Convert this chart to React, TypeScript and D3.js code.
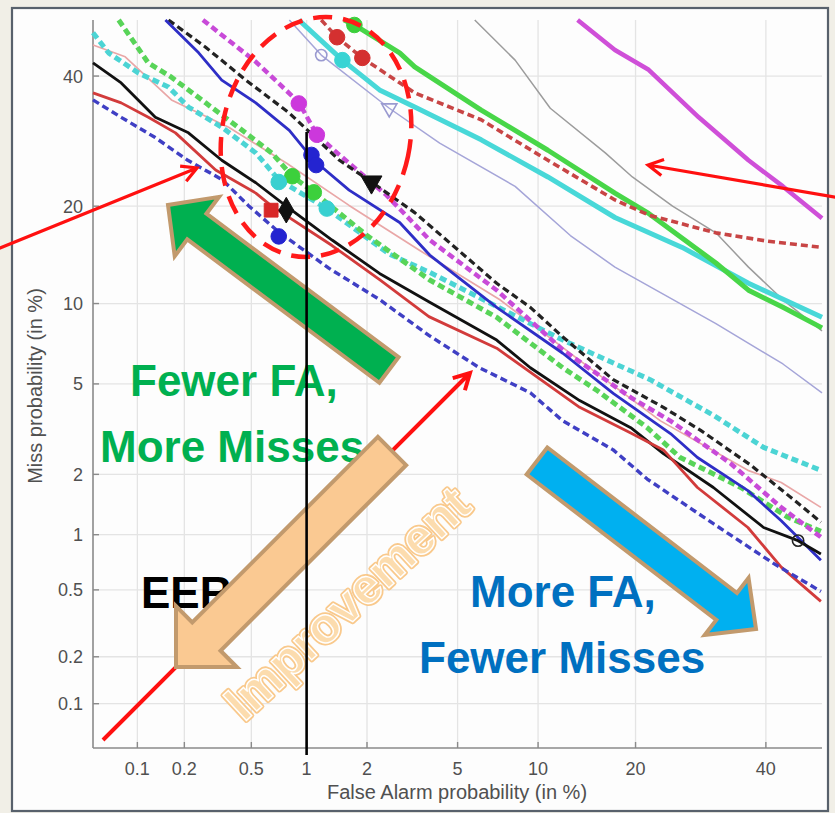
import React from "react";
import * as d3 from "d3";

const W = 835;
const H = 813;

// tick values (percent) shared by both axes
const tickValues = [0.1, 0.2, 0.5, 1, 2, 5, 10, 20, 40];
const tickLabels = ["0.1", "0.2", "0.5", "1", "2", "5", "10", "20", "40"];

// DET curves, [false alarm %, miss %]
const blueDashed = [[0.05, 35.9], [0.078, 33.0], [0.13, 29.8], [0.21, 26.3], [0.34, 23.5], [0.48, 20.1], [0.71, 16.9], [1.3, 13.1], [2.3, 10.3], [3.8, 7.7], [6.1, 5.8], [9.4, 4.6], [12.1, 3.5], [17.3, 2.6], [21.5, 1.9], [31.2, 1.14], [41.4, 0.7], [49.8, 0.49]];
const redSolid = [[0.05, 37.1], [0.078, 35.4], [0.118, 33.0], [0.176, 30.5], [0.31, 24.9], [0.53, 21.7], [0.65, 20.0], [1.35, 15.4], [2.3, 12.0], [3.8, 9.0], [7.1, 6.9], [10.7, 5.0], [13.7, 4.0], [19.4, 3.1], [23.7, 2.6], [28.7, 1.73], [36.9, 1.09], [42.7, 0.67], [49.8, 0.43]];
const blackSolid = [[0.05, 42.3], [0.078, 38.8], [0.131, 33.0], [0.212, 30.5], [0.337, 26.3], [0.53, 23.1], [0.78, 20.0], [1.35, 16.0], [2.29, 12.6], [3.83, 10.1], [7.1, 7.4], [9.4, 5.8], [13.7, 4.27], [19.4, 3.27], [23.7, 2.5], [31.2, 1.73], [39.6, 1.09], [45.7, 0.93], [49.8, 0.79]];
const salmonThin = [[0.05, 45.5], [0.083, 43.4], [0.166, 35.9], [0.37, 31.4], [0.78, 25.9], [1.64, 20.1], [3.46, 14.9], [7.3, 10.3], [13.7, 6.2], [23.3, 3.5], [36.9, 2.09], [42.7, 1.83], [49.8, 1.38]];
const cyanDashed = [[0.05, 47.7], [0.064, 44.1], [0.102, 40.5], [0.159, 38.1], [0.212, 34.7], [0.337, 31.4], [0.53, 27.4], [0.71, 23.5], [1.27, 19.7], [2.54, 14.5], [3.83, 12.7], [12.1, 7.4], [21.9, 5.2], [31.2, 3.7], [39.6, 2.67], [49.8, 2.09]];
const greenDashed = [[0.075, 50], [0.118, 42.3], [0.166, 39.8], [0.27, 35.4], [0.42, 31.4], [0.65, 27.4], [0.84, 24.0], [1.09, 21.8], [2.0, 16.5], [3.83, 12.0], [7.1, 8.95], [12.1, 5.8], [15.5, 4.7], [21.5, 3.27], [26.1, 2.4], [35.7, 1.73], [43.9, 1.23], [49.8, 1.04]];
const blueSolid = [[0.152, 50], [0.245, 44.1], [0.337, 39.3], [0.53, 35.4], [0.81, 30.9], [1.09, 26.3], [1.64, 22.1], [2.83, 18.0], [3.83, 14.4], [7.1, 9.7], [12.1, 6.6], [17.3, 4.57], [24.7, 3.08], [28.7, 2.4], [36.9, 1.67], [42.7, 1.18], [49.8, 0.73]];
const blackDashed = [[0.159, 50], [0.27, 45.1], [0.465, 39.3], [0.81, 33.7], [1.47, 26.3], [2.1, 23.2], [3.3, 19.2], [7.1, 11.7], [9.4, 9.7], [12.1, 7.6], [17.3, 5.2], [23.7, 4.0], [29.2, 3.18], [37.4, 2.21], [46.2, 1.41], [49.8, 1.16]];
const magentaDashed = [[0.26, 50], [0.53, 42.5], [0.91, 35.5], [1.13, 30.2], [1.47, 27.1], [2.47, 21.4], [3.83, 16.0], [7.1, 11.1], [12.1, 6.8], [19.4, 4.4], [24.7, 3.5], [34.0, 2.25], [42.7, 1.38], [49.8, 0.97]];
const greenSolid = [[1.55, 50], [1.74, 49.1], [2.83, 44.1], [3.3, 41.6], [6.2, 34.2], [10.8, 27.8], [17.5, 21.7], [21.7, 19.1], [31.6, 13.6], [37.0, 11.1], [43.0, 9.7], [50, 8.2]];
const redDashed = [[1.19, 50], [1.43, 46.9], [1.9, 43.2], [3.3, 37.1], [6.2, 32.6], [10.8, 26.3], [17.5, 20.8], [21.7, 18.9], [31.6, 16.8], [40, 15.9], [50, 15.2]];
const cyanSolid = [[0.91, 50], [1.52, 42.8], [2.29, 37.6], [3.3, 34.7], [6.2, 29.4], [10.8, 23.9], [17.5, 18.6], [26.4, 15.2], [37.0, 11.7], [50, 8.95]];
const purpleThin = [[0.81, 50], [1.19, 43.7], [2.54, 34.5], [4.22, 28.9], [8.3, 22.6], [12.8, 16.5], [17.5, 13.2], [31.6, 8.5], [43.0, 6.0], [50, 4.6]];
const greyThin = [[5.85, 50], [8.3, 42.8], [11.0, 34.5], [16.4, 27.4], [19.6, 23.9], [25.0, 20.0], [31.6, 16.8], [37.0, 13.2], [43.0, 10.3], [50, 8.0]];
const magentaSolid = [[13.5, 50], [17.5, 44.6], [21.7, 41.1], [28.9, 33.0], [37.0, 26.3], [43.0, 22.6], [50, 18.5]];

// operating point markers
const redDashedMarks = [[1.43, 46.9], [1.9, 43.2]];
const cyanSolidMarks = [[1.52, 42.8]];
const greenSolidMarks = [[1.74, 49.1]];
const purpleCircleMarks = [[1.19, 43.7]];
const purpleTriMarks = [[2.54, 34.5]];
const magentaDashedMarks = [[0.91, 35.3], [1.13, 30.2]];
const blueSolidMarks = [[1.06, 27.1], [1.12, 25.6]];
const blackDashedMarks = [[2.1, 23.2]];
const greenDashedMarks = [[0.84, 24.0], [1.09, 21.8]];
const cyanDashedMarks = [[0.71, 23.2], [1.27, 19.7]];
const redSolidMarks = [[0.645, 19.5]];
const blackSolidMarks = [[0.78, 19.5]];
const blueDashedMarks = [[0.71, 16.4]];
const blackOpenMarks = [[45.7, 0.93]];

// inverse normal cdf (Acklam)
function probit(p: number) {
  const a = [-39.69683028665376, 220.9460984245205, -275.9285104469687, 138.357751867269, -30.66479806614716, 2.506628277459239];
  const b = [-54.47609879822406, 161.5858368580409, -155.6989798598866, 66.80131188771972, -13.28068155288572];
  const c = [-0.007784894002430293, -0.3223964580411365, -2.400758277161838, -2.549732539343734, 4.374664141464968, 2.938163982698783];
  const d = [0.007784695709041462, 0.3224671290700398, 2.445134137142996, 3.754408661907416];
  const pl = 0.02425;
  if (p < pl) {
    const q = Math.sqrt(-2 * Math.log(p));
    return (((((c[0] * q + c[1]) * q + c[2]) * q + c[3]) * q + c[4]) * q + c[5]) / ((((d[0] * q + d[1]) * q + d[2]) * q + d[3]) * q + 1);
  }
  if (p <= 1 - pl) {
    const q = p - 0.5;
    const r = q * q;
    return ((((((a[0] * r + a[1]) * r + a[2]) * r + a[3]) * r + a[4]) * r + a[5]) * q) / (((((b[0] * r + b[1]) * r + b[2]) * r + b[3]) * r + b[4]) * r + 1);
  }
  const q = Math.sqrt(-2 * Math.log(1 - p));
  return -(((((c[0] * q + c[1]) * q + c[2]) * q + c[3]) * q + c[4]) * q + c[5]) / ((((d[0] * q + d[1]) * q + d[2]) * q + d[3]) * q + 1);
}

const left = 93, right = 822, top = 20, bottom = 748;
const xLin = d3.scaleLinear().domain([probit(0.0005), probit(0.5)]).range([left, right]);
const yLin = d3.scaleLinear().domain([probit(0.0005), probit(0.5)]).range([bottom, top]);
const x = (v: number) => xLin(probit(v / 100));
const y = (v: number) => yLin(probit(v / 100));

const series = [
  { data: purpleThin, color: "#a5a5d8", width: 1.5, dash: null },
  { data: greyThin, color: "#9c9c9c", width: 1.5, dash: null },
  { data: salmonThin, color: "#e9a7a7", width: 1.7, dash: null },
  { data: magentaSolid, color: "#cf4fd8", width: 4.5, dash: null },
  { data: cyanSolid, color: "#48d8d8", width: 5, dash: null },
  { data: greenSolid, color: "#48d648", width: 5, dash: null },
  { data: redDashed, color: "#c84545", width: 3.6, dash: "7 4" },
  { data: cyanDashed, color: "#4cd4d4", width: 5, dash: "7 4" },
  { data: greenDashed, color: "#58d458", width: 5, dash: "7 4" },
  { data: magentaDashed, color: "#c84ad8", width: 4.5, dash: "7 4" },
  { data: blackDashed, color: "#222222", width: 3.2, dash: "7 4" },
  { data: blueSolid, color: "#2e2ec6", width: 2.8, dash: null },
  { data: blackSolid, color: "#111111", width: 2.8, dash: null },
  { data: redSolid, color: "#d23b3b", width: 2.8, dash: null },
  { data: blueDashed, color: "#3f3fc4", width: 3.4, dash: "7 4" },
];

const markerSets = [
  { pts: purpleCircleMarks, color: "#9a9ad0", shape: d3.symbolCircle, open: true, rot: 0 },
  { pts: purpleTriMarks, color: "#9a9ad0", shape: d3.symbolTriangle, open: true, rot: 180 },
  { pts: greenSolidMarks, color: "#3ccf3c", shape: d3.symbolCircle, open: false, rot: 0 },
  { pts: redDashedMarks, color: "#d43030", shape: d3.symbolCircle, open: false, rot: 0 },
  { pts: cyanSolidMarks, color: "#38d4d4", shape: d3.symbolCircle, open: false, rot: 0 },
  { pts: magentaDashedMarks, color: "#cc38dc", shape: d3.symbolCircle, open: false, rot: 0 },
  { pts: blueSolidMarks, color: "#2424d0", shape: d3.symbolCircle, open: false, rot: 0 },
  { pts: blackDashedMarks, color: "#111111", shape: d3.symbolTriangle, open: false, rot: 180 },
  { pts: greenDashedMarks, color: "#3cd03c", shape: d3.symbolCircle, open: false, rot: 0 },
  { pts: cyanDashedMarks, color: "#38d0d0", shape: d3.symbolCircle, open: false, rot: 0 },
  { pts: redSolidMarks, color: "#d82828", shape: d3.symbolSquare, open: false, rot: 0 },
  { pts: blackSolidMarks, color: "#111111", shape: d3.symbolDiamond, open: false, rot: 0 },
  { pts: blueDashedMarks, color: "#2424d0", shape: d3.symbolCircle, open: false, rot: 0 },
  { pts: blackOpenMarks, color: "#222222", shape: d3.symbolCircle, open: true, rot: 0 },
];

function blockArrow(tx: number, ty: number, px: number, py: number, sw: number, hw: number, hl: number) {
  const dx = px - tx, dy = py - ty;
  const L = Math.hypot(dx, dy);
  const ux = dx / L, uy = dy / L;
  const nx = -uy, ny = ux;
  const bx = px - ux * hl, by = py - uy * hl;
  const pts = [
    [tx + (nx * sw) / 2, ty + (ny * sw) / 2],
    [bx + (nx * sw) / 2, by + (ny * sw) / 2],
    [bx + (nx * hw) / 2, by + (ny * hw) / 2],
    [px, py],
    [bx - (nx * hw) / 2, by - (ny * hw) / 2],
    [bx - (nx * sw) / 2, by - (ny * sw) / 2],
    [tx - (nx * sw) / 2, ty - (ny * sw) / 2],
  ];
  return pts.map((p) => p.join(",")).join(" ");
}

function thinArrow(x1: number, y1: number, x2: number, y2: number, len: number) {
  const a = Math.atan2(y2 - y1, x2 - x1);
  const ang = 0.5;
  const p1 = [x2 - len * Math.cos(a - ang), y2 - len * Math.sin(a - ang)];
  const p2 = [x2 - len * Math.cos(a + ang), y2 - len * Math.sin(a + ang)];
  return `M${x1},${y1}L${x2},${y2}M${p1[0]},${p1[1]}L${x2},${y2}L${p2[0]},${p2[1]}`;
}

export default function App() {
  const line = d3
    .line<number[]>()
    .x((d) => x(d[0]))
    .y((d) => y(d[1]));

  const font = "'Liberation Sans', Arial, Helvetica, sans-serif";
  const tan = "#c29a6d";

  return (
    <svg width={W} height={H} style={{ position: "absolute", left: 0, top: 0 }} fontFamily={font}>
      <rect x={0} y={0} width={W} height={H} fill="#f1efe7" />
      <rect x={12} y={8} width={816} height={803} fill="#fdfdfd" stroke="#58616c" strokeWidth={2.2} />

      {/* grid */}
      {tickValues.map((v) => (
        <line key={"gx" + v} x1={x(v)} x2={x(v)} y1={top} y2={bottom} stroke="#e4e4e4" strokeWidth={1.3} />
      ))}
      {tickValues.map((v) => (
        <line key={"gy" + v} x1={left} x2={right} y1={y(v)} y2={y(v)} stroke="#e4e4e4" strokeWidth={1.3} />
      ))}

      {/* axes */}
      <line x1={left} x2={left} y1={top} y2={bottom} stroke="#8a8a8a" strokeWidth={1.6} />
      <line x1={left} x2={right} y1={bottom} y2={bottom} stroke="#8a8a8a" strokeWidth={1.6} />
      {tickValues.map((v, i) => (
        <g key={"tx" + v}>
          <line x1={x(v)} x2={x(v)} y1={bottom} y2={bottom - 6} stroke="#8a8a8a" strokeWidth={1.4} />
          <text x={x(v)} y={775} textAnchor="middle" fontSize={18} fill="#505050">
            {tickLabels[i]}
          </text>
        </g>
      ))}
      {tickValues.map((v, i) => (
        <g key={"ty" + v}>
          <line x1={left} x2={left + 6} y1={y(v)} y2={y(v)} stroke="#8a8a8a" strokeWidth={1.4} />
          <text x={83} y={y(v)} dy="0.36em" textAnchor="end" fontSize={18} fill="#505050">
            {tickLabels[i]}
          </text>
        </g>
      ))}
      <text x={457} y={799} textAnchor="middle" fontSize={20} fill="#505050">
        False Alarm probability (in %)
      </text>
      <text transform="translate(42,386) rotate(-90)" textAnchor="middle" fontSize={20} fill="#505050">
        Miss probability (in %)
      </text>

      {/* curves */}
      {series.map((s, i) => (
        <path
          key={"s" + i}
          d={line(s.data) || ""}
          fill="none"
          stroke={s.color}
          strokeWidth={s.width}
          strokeDasharray={s.dash || undefined}
          strokeLinejoin="round"
        />
      ))}

      {/* markers */}
      {markerSets.map((m, i) =>
        m.pts.map((p, j) => (
          <path
            key={"m" + i + "_" + j}
            d={d3.symbol().type(m.shape).size(m.open ? 100 : 190)() || ""}
            transform={`translate(${x(p[0])},${y(p[1])}) rotate(${m.rot})`}
            fill={m.open ? "none" : m.color}
            stroke={m.color}
            strokeWidth={m.open ? 1.6 : 1}
          />
        ))
      )}

      {/* highlighted operating points */}
      <ellipse
        cx={316}
        cy={137}
        rx={94}
        ry={121}
        transform="rotate(12,316,137)"
        fill="none"
        stroke="#ff1a1a"
        strokeWidth={4.5}
        strokeDasharray="19 11"
      />

      {/* red pointer arrows */}
      <path d={thinArrow(-5, 250, 197, 168, 17)} fill="none" stroke="#ff1010" strokeWidth={3.2} />
      <path d={thinArrow(840, 198, 648, 165, 17)} fill="none" stroke="#ff1010" strokeWidth={3.2} />
      <path d={thinArrow(103, 740, 470, 373, 18)} fill="none" stroke="#ff1010" strokeWidth={4} />

      {/* captions */}
      <g fontWeight="bold" fontSize={44}>
        <text x={130} y={396} fill="#00b050">Fewer FA,</text>
        <text x={100} y={462} fill="#00b050">More Misses</text>
        <text x={141} y={608} fill="#000000">EER</text>
        <text x={470} y={607} fill="#0070c0">More FA,</text>
        <text x={419} y={673} fill="#0070c0">Fewer Misses</text>
      </g>

      {/* block arrows */}
      <polygon points={blockArrow(389, 370, 168, 205, 32, 74, 36)} fill="#00b050" stroke={tan} strokeWidth={4} strokeLinejoin="miter" />
      <polygon points={blockArrow(392, 451, 176, 667, 40, 86, 43)} fill="#fac992" stroke={tan} strokeWidth={4} strokeLinejoin="miter" />
      <polygon points={blockArrow(537, 461, 756, 629, 34, 72, 37)} fill="#00b0f0" stroke={tan} strokeWidth={4} strokeLinejoin="miter" />

      <g transform="translate(347,603) rotate(-43)" fontWeight="bold" fontSize={50} textAnchor="middle">
        <text dy="0.35em" fill="#fbd29c" stroke="#f9c98c" strokeWidth={5} strokeLinejoin="round">
          Improvement
        </text>
        <text dy="0.35em" fill="#fcdcae" stroke="#ffffff" strokeWidth={1.4}>
          Improvement
        </text>
      </g>

      {/* 1% false alarm line */}
      <line x1={x(1)} x2={x(1)} y1={132} y2={755} stroke="#000000" strokeWidth={2.6} />
    </svg>
  );
}
